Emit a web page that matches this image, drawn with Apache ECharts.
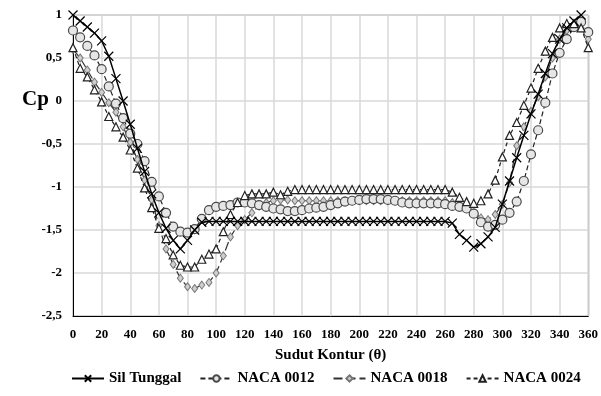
<!DOCTYPE html>
<html>
<head>
<meta charset="utf-8">
<script src="https://cdn.jsdelivr.net/npm/echarts@6/dist/echarts.min.js"></script>
<style>
  html, body { margin: 0; padding: 0; background: #fff; }
  #chart { width: 601px; height: 396px; }
</style>
</head>
<body>
<div id="chart"></div>
<script>
// sudut kontur, tiap 5 derajat
var theta = []
for (var t = 0; t <= 360; t += 5) theta.push(t)

var silTunggal = [
  1, 0.93, 0.86, 0.79, 0.7, 0.52, 0.26, 0, -0.27, -0.55,
  -0.82, -1.08, -1.3, -1.48, -1.62, -1.72, -1.62, -1.5, -1.41,
  -1.4, -1.4, -1.4, -1.4, -1.4, -1.4, -1.4, -1.4, -1.4, -1.4,
  -1.4, -1.4, -1.4, -1.4, -1.4, -1.4, -1.4, -1.4, -1.4, -1.4,
  -1.4, -1.4, -1.4, -1.4, -1.4, -1.4, -1.4, -1.4, -1.4, -1.4,
  -1.4, -1.4, -1.4, -1.4,
  -1.42, -1.55, -1.62, -1.7, -1.66, -1.58, -1.47, -1.2, -0.93, -0.66,
  -0.4, -0.15, 0.08, 0.32, 0.55, 0.72, 0.85, 0.93, 1
]
var naca0012 = [
  0.82, 0.74, 0.64, 0.53, 0.37, 0.17, -0.03, -0.2, -0.38, -0.5,
  -0.7, -0.94, -1.11, -1.3, -1.46, -1.52, -1.53, -1.49, -1.37, -1.27,
  -1.23, -1.22, -1.21, -1.18, -1.18, -1.19, -1.21, -1.23, -1.25, -1.26,
  -1.28, -1.28, -1.27, -1.25, -1.24, -1.23, -1.21, -1.19, -1.17, -1.16,
  -1.15, -1.14, -1.14, -1.14, -1.15, -1.16, -1.18, -1.19, -1.19, -1.19,
  -1.19, -1.19, -1.2, -1.22, -1.23, -1.25, -1.31, -1.41, -1.46, -1.44,
  -1.38, -1.3, -1.17, -0.93, -0.62, -0.34, -0.02, 0.32, 0.56, 0.72,
  0.86, 0.92, 0.8
]
var naca0018 = [
  0.6, 0.5, 0.36, 0.22, 0.1, -0.02, -0.13, -0.3, -0.48, -0.68,
  -0.92, -1.15, -1.45, -1.72, -1.9, -2.06, -2.16, -2.18, -2.14, -2.11,
  -2, -1.8, -1.58, -1.45, -1.38, -1.3, -1.22, -1.18, -1.16, -1.15,
  -1.15, -1.16, -1.16, -1.16, -1.16, -1.16, -1.16, -1.16, -1.16, -1.16,
  -1.16, -1.16, -1.16, -1.16, -1.16, -1.16, -1.16, -1.16, -1.16, -1.16,
  -1.16, -1.16, -1.16, -1.18, -1.2, -1.24, -1.3, -1.36, -1.38, -1.32,
  -1.2, -0.95, -0.52, -0.3, -0.12, 0.05, 0.28, 0.5, 0.72, 0.82,
  0.88, 0.85, 0.72
]
var naca0024 = [
  0.62, 0.38, 0.28, 0.13, -0.01, -0.18, -0.3, -0.42, -0.57, -0.78,
  -1.01, -1.24, -1.48, -1.6, -1.79, -1.91, -1.93, -1.93, -1.84, -1.78,
  -1.72, -1.52, -1.32, -1.18, -1.1, -1.08, -1.08, -1.08, -1.06, -1.09,
  -1.05, -1.03, -1.03, -1.03, -1.03, -1.03, -1.03, -1.03, -1.03, -1.03,
  -1.03, -1.03, -1.03, -1.03, -1.03, -1.03, -1.03, -1.03, -1.03, -1.03,
  -1.03, -1.03, -1.03, -1.06, -1.12, -1.17, -1.19, -1.16, -1.08, -0.92,
  -0.65, -0.4, -0.25, -0.05, 0.15, 0.38, 0.58, 0.74, 0.85, 0.9,
  0.9, 0.85, 0.62
]
var seriesNames = ['Sil Tunggal', 'NACA 0012', 'NACA 0018', 'NACA 0024']

var serif = '"Liberation Serif", "DejaVu Serif", serif'

function pairs(values) {
  return values.map(function (v, i) { return [theta[i], v] })
}

var chart = echarts.init(document.getElementById('chart'))

var option = {
  animation: false,
  backgroundColor: '#fff',
  grid: {
    left: 73, right: 7, top: 15, bottom: 80,
    show: true, borderColor: '#8c8c8c', borderWidth: 1
  },
  graphic: [
    {
      type: 'text', left: 22, top: 89,
      style: { text: 'Cp', font: 'bold 21px ' + serif, fill: '#000' }
    }
  ],
  legend: {
    bottom: 5,
    left: 66,
    itemWidth: 32,
    itemHeight: 8,
    itemGap: 18,
    textStyle: { fontFamily: serif, fontWeight: 'bold', fontSize: 15, color: '#000' },
    data: seriesNames
  },
  xAxis: {
    type: 'value',
    min: 0, max: 360, interval: 20,
    name: 'Sudut Kontur (θ)',
    nameLocation: 'middle',
    nameGap: 32,
    nameTextStyle: { fontFamily: serif, fontWeight: 'bold', fontSize: 15, color: '#000' },
    axisLine: { show: true, onZero: false, lineStyle: { color: '#000', width: 1 } },
    axisTick: { show: false },
    axisLabel: { fontFamily: serif, fontWeight: 'bold', fontSize: 13, color: '#000', margin: 12 },
    splitLine: { show: true, lineStyle: { color: '#d9d9d9', width: 1.5 } }
  },
  yAxis: {
    type: 'value',
    min: -2.5, max: 1, interval: 0.5,
    axisLine: { show: true, onZero: false, lineStyle: { color: '#000', width: 1 } },
    axisTick: { show: false },
    axisLabel: {
      fontFamily: serif, fontWeight: 'bold', fontSize: 13, color: '#000', margin: 11,
      formatter: function (v) { return String(v).replace('.', ',') }
    },
    splitLine: { show: true, lineStyle: { color: '#d9d9d9', width: 1.5 } }
  },
  series: [
    {
      name: seriesNames[0], type: 'line', data: pairs(silTunggal),
      color: '#000',
      symbol: 'path://M0,0L10,10M10,0L0,10', symbolSize: 9,
      itemStyle: { color: '#000', borderColor: '#000', borderWidth: 1.2 },
      lineStyle: { color: '#000', width: 1.5, type: 'solid' },
      z: 5
    },
    {
      name: seriesNames[1], type: 'line', data: pairs(naca0012),
      color: '#444',
      symbol: 'circle', symbolSize: 9,
      itemStyle: { color: '#e6e6e6', borderColor: '#4a4a4a', borderWidth: 1.2 },
      lineStyle: { color: '#222', width: 1.2, type: [5, 3] },
      z: 3
    },
    {
      name: seriesNames[2], type: 'line', data: pairs(naca0018),
      color: '#666',
      symbol: 'diamond', symbolSize: [6, 8],
      itemStyle: { color: '#cfcfcf', borderColor: '#777', borderWidth: 1 },
      lineStyle: { color: '#333', width: 1.2, type: [9, 4] },
      z: 2
    },
    {
      name: seriesNames[3], type: 'line', data: pairs(naca0024),
      color: '#333',
      symbol: 'triangle', symbolSize: 8,
      itemStyle: { color: '#fff', borderColor: '#222', borderWidth: 1.2 },
      lineStyle: { color: '#222', width: 1.2, type: [4, 3] },
      z: 4
    }
  ]
}

chart.setOption(option)
</script>
</body>
</html>
